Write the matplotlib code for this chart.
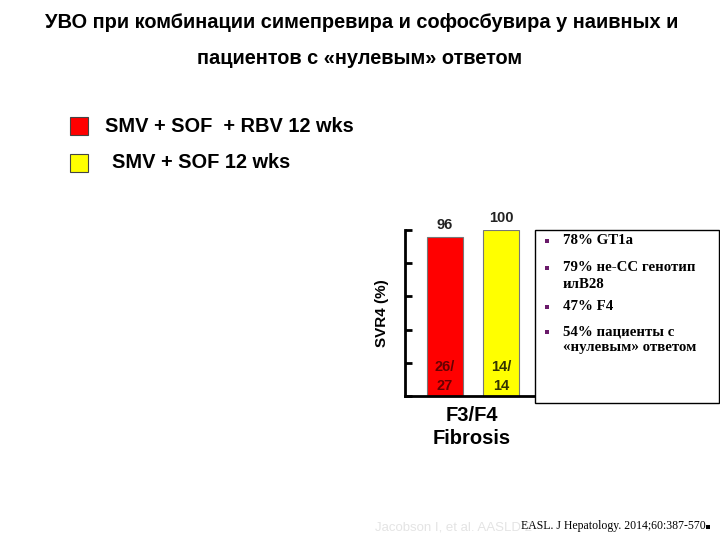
import matplotlib
matplotlib.use("Agg")
import matplotlib.pyplot as plt
from matplotlib.patches import Rectangle

W, H = 720, 540
categories = ["SMV + SOF  + RBV 12 wks", "SMV + SOF 12 wks"]
values = [96, 100]
counts = ["26/\n27", "14/\n14"]
colors = ["#ff0000", "#ffff00"]
yticks = [0, 20, 40, 60, 80, 100]
bullets = [["78% GT1a"], ["79% не-CC генотип", "илB28"], ["47% F4"],
           ["54% пациенты с", "«нулевым» ответом"]]

fig = plt.figure(figsize=(W / 100, H / 100), dpi=100)
fig.patch.set_facecolor("white")

def fx(x): return x / W
def fy(y): return 1 - y / H

sans = ["Liberation Sans", "DejaVu Sans"]
serif = ["Liberation Serif", "DejaVu Serif"]

fig.text(fx(362), fy(22), "УВО при комбинации симепревира и софосбувира у наивных и",
         ha="center", va="center", fontsize=14.4, fontweight="bold", family=sans)
fig.text(fx(360), fy(58), "пациентов с «нулевым» ответом",
         ha="center", va="center", fontsize=14.4, fontweight="bold", family=sans)

# legend
leg_y = [126, 163]
leg_tx = [105, 112]
for c, lab, y, tx in zip(colors, categories, leg_y, leg_tx):
    fig.patches.append(Rectangle((fx(70), fy(y + 9)), 18 / W, 18 / H,
                                 transform=fig.transFigure, facecolor=c,
                                 edgecolor="#444444", linewidth=0.8))
    fig.text(fx(tx), fy(y), lab, ha="left", va="center", fontsize=14.4,
             fontweight="bold", family=sans)

# axes: x 405..538, y 230..396 (0..100)
ax = fig.add_axes([fx(405), fy(396), (538 - 405) / W, (396 - 230) / H])
xs = [0.6, 1.45]
bars = ax.bar(xs, values, width=0.54, color=colors, edgecolor="#777777", linewidth=0.8)
ax.set_xlim(0, 2)
ax.set_ylim(0, 100)
ax.set_yticks(yticks)
ax.set_yticklabels([])
ax.set_xticks([])
ax.tick_params(axis="y", direction="in", length=5, width=2)
for s in ["top", "right"]:
    ax.spines[s].set_visible(False)
ax.spines["left"].set_linewidth(2)
ax.spines["bottom"].set_linewidth(2)
for x, v in zip(xs, values):
    ax.text(x, v + 3, str(v), ha="center", va="bottom", fontsize=10.5,
            fontweight="bold", family=sans, color="#222222")
for x, t, c in zip(xs, counts, ["#660000", "#333300"]):
    ax.text(x, 2, t, ha="center", va="bottom", fontsize=10.5,
            fontweight="bold", family=sans, color=c, linespacing=1.45)
ax.set_ylabel("SVR4 (%)", fontsize=11, fontweight="bold", family=sans, labelpad=8)
ax.text(0.5, -0.06, "F3/F4\nFibrosis", transform=ax.transAxes, ha="center", va="top",
        fontsize=14.5, fontweight="bold", family=sans, linespacing=1.25)

# bullet box
fig.patches.append(Rectangle((fx(535), fy(403)), (719 - 535) / W, (403 - 230) / H,
                             transform=fig.transFigure, facecolor="white",
                             edgecolor="black", linewidth=1))
by = [241, 268, 307, 332]
for y, lines in zip(by, bullets):
    fig.patches.append(Rectangle((fx(545), fy(y + 2)), 4 / W, 4 / H,
                                 transform=fig.transFigure, facecolor="#6a1b6a",
                                 edgecolor="none"))
    for i, t in enumerate(lines):
        fig.text(fx(563), fy(y + 16 * i), t, ha="left", va="center", fontsize=10.7,
                 fontweight="bold", family=serif)

# footer
fig.text(fx(375), fy(527), "Jacobson I, et al. AASLD 2", ha="left", va="center",
         fontsize=9.5, family=sans, color="#e4e4e4")
fig.text(fx(521), fy(526), "EASL. J Hepatology. 2014;60:387-570.", ha="left",
         va="center", fontsize=8.5, family=serif, color="black")
fig.patches.append(Rectangle((fx(706), fy(529)), 4 / W, 4 / H,
                             transform=fig.transFigure, facecolor="black",
                             edgecolor="none"))

fig.savefig("out.png", dpi=100, facecolor="white")
